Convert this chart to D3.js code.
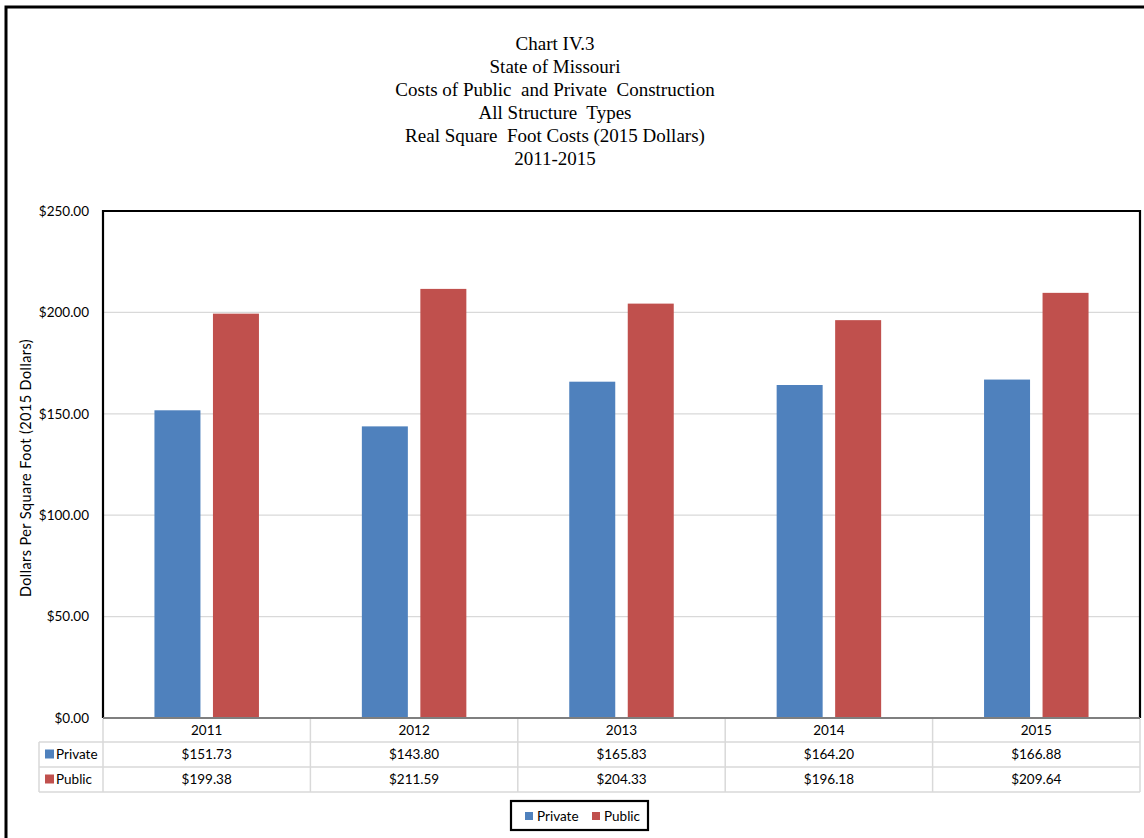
<!DOCTYPE html>
<html>
<head>
<meta charset="utf-8">
<script src="https://cdn.jsdelivr.net/npm/d3@7"></script>
<style>
  html, body { margin: 0; padding: 0; background: #fff; }
  svg { display: block; }
</style>
</head>
<body>
<script>
// Chart data
const years = ["2011", "2012", "2013", "2014", "2015"];
const seriesNames = ["Private", "Public"];
const privateValues = [151.73, 143.80, 165.83, 164.20, 166.88];
const publicValues = [199.38, 211.59, 204.33, 196.18, 209.64];
const seriesColors = ["#4f81bd", "#c0504d"];
const yTicks = [0, 50, 100, 150, 200, 250];
const titleLines = [
  "Chart IV.3",
  "State of Missouri",
  "Costs of Public  and Private  Construction",
  "All Structure  Types",
  "Real Square  Foot Costs (2015 Dollars)",
  "2011-2015"
];

const W = 1144, H = 838;
const sansFont = "Lato, 'Open Sans', 'Liberation Sans', sans-serif";
const serifFont = "'Liberation Serif', 'Times New Roman', serif";

const svg = d3.select("body").append("svg")
  .attr("width", W).attr("height", H);

// Outer chart frame
svg.append("rect")
  .attr("x", 6).attr("y", 7).attr("width", W + 10).attr("height", H + 10)
  .attr("fill", "none").attr("stroke", "#000").attr("stroke-width", 3);

// Title block
const title = svg.append("text")
  .attr("text-anchor", "middle")
  .attr("font-family", serifFont)
  .attr("font-size", 19)
  .attr("fill", "#000");
titleLines.forEach((t, i) => {
  title.append("tspan")
    .attr("x", 555)
    .attr("y", 50 + i * 23)
    .attr("xml:space", "preserve")
    .style("white-space", "pre")
    .text(t);
});

// Plot area
const plot = { left: 103, top: 211, right: 1140, bottom: 718 };

const x = d3.scaleBand()
  .domain(years)
  .range([plot.left, plot.right])
  .paddingInner(0).paddingOuter(0);

const y = d3.scaleLinear()
  .domain([0, 250])
  .range([plot.bottom, plot.top]);

// Gridlines
svg.append("g")
  .selectAll("line")
  .data(yTicks.filter(d => d > 0 && d < 250))
  .join("line")
  .attr("x1", plot.left).attr("x2", plot.right)
  .attr("y1", d => y(d)).attr("y2", d => y(d))
  .attr("stroke", "#d9d9d9").attr("stroke-width", 1.2);

// Bars
const barW = 46, barGap = 12.5;
const data = years.map((yr, i) => ({ year: yr, values: [privateValues[i], publicValues[i]] }));
const groups = svg.append("g").selectAll("g")
  .data(data)
  .join("g")
  .attr("transform", d => `translate(${x(d.year) + x.bandwidth() / 2},0)`);

groups.selectAll("rect")
  .data(d => d.values.map((v, s) => ({ v, s })))
  .join("rect")
  .attr("x", d => d.s === 0 ? -barGap / 2 - barW : barGap / 2)
  .attr("width", barW)
  .attr("y", d => y(d.v))
  .attr("height", d => y(0) - y(d.v))
  .attr("fill", d => seriesColors[d.s]);

// Plot border (left, top, right) and category axis line
svg.append("path")
  .attr("d", `M${plot.left},${plot.bottom}V${plot.top}H${plot.right}V${plot.bottom}`)
  .attr("fill", "none").attr("stroke", "#000").attr("stroke-width", 2.2);

svg.append("line")
  .attr("x1", plot.left).attr("x2", plot.right)
  .attr("y1", plot.bottom).attr("y2", plot.bottom)
  .attr("stroke", "#7f7f7f").attr("stroke-width", 2);

// Y axis tick labels
const yAxis = d3.axisLeft(y)
  .tickValues(yTicks)
  .tickFormat(d => "$" + d3.format(".2f")(d))
  .tickSize(0)
  .tickPadding(14);
const yg = svg.append("g")
  .attr("transform", `translate(${plot.left},0)`)
  .call(yAxis);
yg.select(".domain").remove();
yg.selectAll("text")
  .attr("font-family", sansFont)
  .attr("font-size", 13.5)
  .attr("fill", "#000");

// Y axis title
svg.append("text")
  .attr("transform", "translate(31,468) rotate(-90)")
  .attr("text-anchor", "middle")
  .attr("font-family", sansFont)
  .attr("font-size", 14.5)
  .attr("letter-spacing", 0.4)
  .attr("fill", "#000")
  .text("Dollars Per Square Foot (2015 Dollars)");

// Data table under the plot
const tableLeft = 39;
const rowTop = [718, 742, 767];
const rowBottom = 792;
const gridColor = "#d9d9d9";
const table = svg.append("g");

// horizontal rules
[742, 767, 792].forEach(yy => {
  table.append("line")
    .attr("x1", tableLeft).attr("x2", plot.right)
    .attr("y1", yy).attr("y2", yy)
    .attr("stroke", gridColor).attr("stroke-width", 1.5);
});
// vertical rules
table.append("line")
  .attr("x1", tableLeft).attr("x2", tableLeft)
  .attr("y1", 742).attr("y2", rowBottom)
  .attr("stroke", gridColor).attr("stroke-width", 1.5);
years.concat(["end"]).forEach((yr, i) => {
  const xx = i < years.length ? x(yr) : plot.right;
  table.append("line")
    .attr("x1", xx).attr("x2", xx)
    .attr("y1", 719).attr("y2", rowBottom)
    .attr("stroke", gridColor).attr("stroke-width", 1.5);
});

// header years
table.selectAll("text.yr")
  .data(years)
  .join("text")
  .attr("class", "yr")
  .attr("x", d => x(d) + x.bandwidth() / 2)
  .attr("y", 735)
  .attr("text-anchor", "middle")
  .attr("font-family", sansFont).attr("font-size", 13.5).attr("fill", "#000")
  .text(d => d);

// series rows
const rowValues = [privateValues, publicValues];
seriesNames.forEach((name, s) => {
  const cy = rowTop[s + 1] + 12.5;
  table.append("rect")
    .attr("x", 45).attr("y", cy - 5).attr("width", 9).attr("height", 9)
    .attr("fill", seriesColors[s]);
  table.append("text")
    .attr("x", 56).attr("y", cy + 4.5)
    .attr("font-family", sansFont).attr("font-size", 13.5).attr("fill", "#000")
    .text(name);
  table.selectAll(null)
    .data(rowValues[s])
    .join("text")
    .attr("x", (d, i) => x(years[i]) + x.bandwidth() / 2)
    .attr("y", cy + 4.5)
    .attr("text-anchor", "middle")
    .attr("font-family", sansFont).attr("font-size", 13.5).attr("fill", "#000")
    .text(d => "$" + d3.format(".2f")(d));
});

// Legend
const legend = svg.append("g");
legend.append("rect")
  .attr("x", 511).attr("y", 801).attr("width", 137).attr("height", 29)
  .attr("fill", "#fff").attr("stroke", "#000").attr("stroke-width", 2.2);
const legendX = [525, 592];
seriesNames.forEach((name, s) => {
  legend.append("rect")
    .attr("x", legendX[s]).attr("y", 812).attr("width", 8).attr("height", 8)
    .attr("fill", seriesColors[s]);
  legend.append("text")
    .attr("x", legendX[s] + 12).attr("y", 820.5)
    .attr("font-family", sansFont).attr("font-size", 13.5).attr("fill", "#000")
    .text(name);
});
</script>
</body>
</html>
